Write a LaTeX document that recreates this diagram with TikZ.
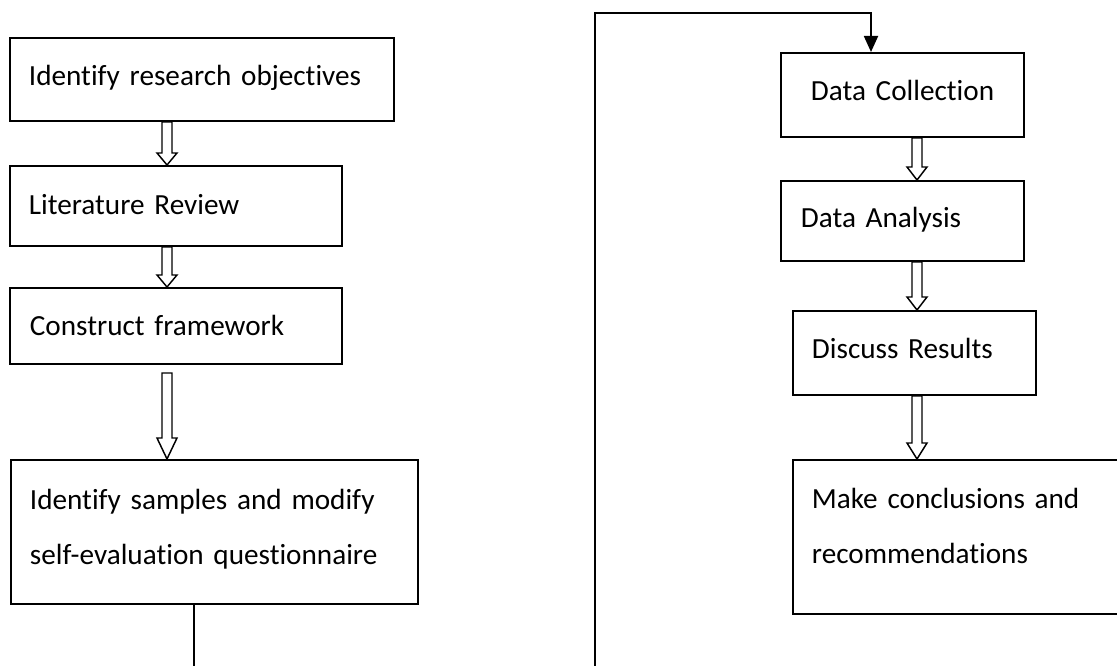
\documentclass[tikz,border=0pt]{standalone}
\usepackage{fontspec}
\setmainfont[Ligatures=NoCommon]{Carlito}
\usetikzlibrary{arrows.meta,calc}

% one drawing unit = 0.75pt
\newcommand\pxu[1]{#1*0.75pt}
% invisible strut below the last line, lifts the text block inside its box
\newcommand\lift[1]{\rule[-#1]{0pt}{#1}}

% downward hollow block arrow: #1 start, #2 tip, #3 head length
\newcommand\hollowdown[3]{%
  \path let \p1=(#1), \p2=(#2) in
    [hollow] (\x1-3.75pt,\y1) -- (\x1-3.75pt,\y2+#3*0.75pt)
    -- (\x1-7.5pt,\y2+#3*0.75pt) -- (\x1,\y2)
    -- (\x1+7.5pt,\y2+#3*0.75pt) -- (\x1+3.75pt,\y2+#3*0.75pt)
    -- (\x1+3.75pt,\y1) -- cycle;}

\tikzset{
  stepbox/.style={draw, line width=1.4pt, anchor=north west, align=left,
    inner ysep=0pt, font=\fontsize{21.9}{41.25}\selectfont},
  hollow/.style={draw, line width=1.1pt, fill=white, line join=miter},
  link/.style={draw, line width=1.4pt},
}

\begin{document}
\begin{tikzpicture}[x=0.75pt, y=-0.75pt]
\useasboundingbox (0,0) rectangle (1117,666);
\clip (0,0) rectangle (1117,666);

% left column
\node[stepbox, minimum width=\pxu{384}, minimum height=\pxu{83},
  inner xsep=\pxu{19}, text width=\pxu{346}] (b1) at (9,37)
  {\mbox{Identify research objectives}\lift{6pt}};
\node[stepbox, minimum width=\pxu{332}, minimum height=\pxu{80},
  inner xsep=\pxu{19}, text width=\pxu{294}] (b2) at (9,165)
  {\mbox{Literature Review}\lift{1.5pt}};
\node[stepbox, minimum width=\pxu{332}, minimum height=\pxu{76},
  inner xsep=\pxu{20}, text width=\pxu{292}] (b3) at (9,287)
  {\mbox{Construct framework}};
\node[stepbox, minimum width=\pxu{407}, minimum height=\pxu{144},
  inner xsep=\pxu{19}, text width=\pxu{369}] (b4) at (10,459)
  {\mbox{Identify samples and modify}\\\mbox{self-evaluation questionnaire}\lift{7pt}};

% right column
\node[stepbox, minimum width=\pxu{243}, minimum height=\pxu{84},
  inner xsep=\pxu{30}, text width=\pxu{183}] (b5) at (780,52)
  {\mbox{Data Collection}\lift{7.5pt}};
\node[stepbox, minimum width=\pxu{243}, minimum height=\pxu{80},
  inner xsep=\pxu{20}, text width=\pxu{203}] (b6) at (780,180)
  {\mbox{Data Analysis}\lift{6pt}};
\node[stepbox, minimum width=\pxu{243}, minimum height=\pxu{84},
  inner xsep=\pxu{19}, text width=\pxu{205}] (b7) at (792,310)
  {\mbox{Discuss Results}\lift{7.5pt}};
\node[stepbox, minimum width=\pxu{348}, minimum height=\pxu{154},
  inner xsep=\pxu{19}, text width=\pxu{310}] (b8) at (792,459)
  {\mbox{Make conclusions and}\\\mbox{recommendations}\lift{16.5pt}};

% arrow columns
\coordinate (colL) at (167,0);
\coordinate (colR) at (917,0);
\coordinate (a3top) at (167,373);

\hollowdown{colL |- b1.south}{colL |- b2.north}{12}
\hollowdown{colL |- b2.south}{colL |- b3.north}{12}
\hollowdown{a3top}{colL |- b4.north}{21}
\hollowdown{colR |- b5.south}{colR |- b6.north}{13}
\hollowdown{colR |- b6.south}{colR |- b7.north}{13}
\hollowdown{colR |- b7.south}{colR |- b8.north}{16}

% return line from the left column to the right column
\coordinate (loopA) at (194,690);
\coordinate (loopB) at (595,690);
\coordinate (loopC) at (595,13);
\coordinate (loopD) at (871,13);
\draw[link, -{Triangle[length=12pt,width=10.5pt]}]
  (b4.south -| loopA) -- (loopA) -- (loopB) -- (loopC) -- (loopD)
  -- (loopD |- b5.north);
\end{tikzpicture}
\end{document}
